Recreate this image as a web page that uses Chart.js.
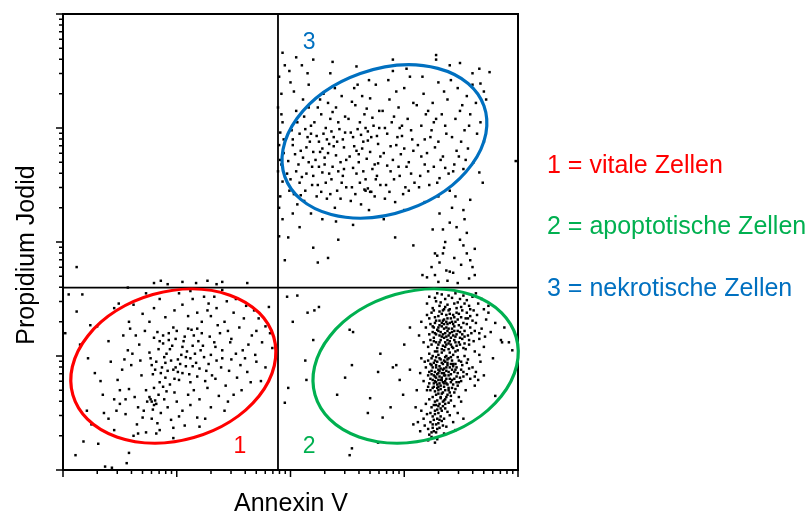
<!DOCTYPE html>
<html>
<head>
<meta charset="utf-8">
<script src="https://cdn.jsdelivr.net/npm/chart.js@4.4.1/dist/chart.umd.min.js"></script>
<style>
html,body{margin:0;padding:0;background:#fff;}
#wrap{width:809px;height:515px;position:relative;}
</style>
</head>
<body>
<div id="wrap"><canvas id="c" width="809" height="515"></canvas></div>
<script>
// Axis: 4 log decades (Annexin V on x, Propidium Jodid on y); values are log10 intensities
const axisMin = 0, axisMax = 4;
const decadeTicks = [0, 1, 2, 3, 4];
const minorTickOffsets = [0.301, 0.477, 0.602, 0.699, 0.778, 0.845, 0.903, 0.954];
const quadrantX = 1.89, quadrantY = 1.6;
const xTitle = 'Annexin V';
const yTitle = 'Propidium Jodid';
const legendLabels = ['1 = vitale Zellen', '2 = apoptotische Zellen', '3 = nekrotische Zellen'];
const gateNumbers = ['1', '2', '3'];
const gateColors = ['#ff0000', '#00b050', '#0070c0'];

// Events, [Annexin V, Propidium Jodid] in decades
const vitalCells = [
[0.82,0.95],[0.91,1.02],[1.05,1.08],[1.12,0.98],[0.97,0.88],[1.21,1.05],[0.88,1.11],[1.02,0.79],[1.15,1.18],[0.79,0.84],
[1.28,0.93],[0.93,1.20],[1.08,0.91],[0.85,0.77],[1.18,0.82],[1.33,1.12],[0.99,1.15],[0.76,1.03],[1.10,1.24],[1.25,0.78],
[0.95,0.96],[1.04,1.01],[0.87,0.90],[1.14,1.09],[1.01,0.86],[0.90,0.81],[1.22,1.20],[0.80,1.16],[1.30,1.01],[0.94,0.75],
[1.07,1.17],[1.17,0.94],[0.84,1.06],[1.00,1.22],[1.26,0.87],[0.78,0.92],[1.11,0.84],[0.96,1.09],[1.19,1.13],[0.89,0.99],
[1.03,0.93],[1.09,1.04],[0.92,0.87],[1.24,0.99],[0.83,1.21],[1.35,0.96],[0.98,0.80],[1.13,1.23],[0.86,0.85],[1.06,1.13],
[1.20,0.89],[0.77,0.98],[1.16,1.02],[0.94,1.06],[1.29,1.17],[1.01,0.97],[0.88,1.18],[1.12,0.77],[0.81,0.88],[1.23,1.09],
[0.97,1.25],[1.05,0.85],[1.31,0.83],[0.90,0.94],[1.08,0.99],[0.85,1.13],[1.18,1.24],[0.99,0.90],[1.14,0.91],[0.93,1.14],
[0.45,0.62],[0.52,0.88],[0.58,0.71],[0.61,1.02],[0.66,0.55],[0.69,0.83],[0.72,1.22],[0.55,0.49],[0.63,0.64],[0.70,0.46],
[0.74,0.60],[0.48,0.79],[0.60,0.92],[0.67,1.10],[0.73,0.70],[0.57,1.05],[0.50,0.58],[0.65,0.40],[0.71,0.52],[0.78,0.45],
[0.82,0.58],[0.86,0.50],[0.84,0.66],[0.89,0.62],[0.80,0.72],[0.92,0.55],[0.76,0.64],[0.83,0.41],[0.95,0.44],[1.00,0.60],
[1.05,0.52],[0.91,0.69],[1.10,0.66],[1.15,0.70],[0.98,0.68],[1.20,0.62],[1.27,0.72],[0.85,0.35],[0.97,0.37],[1.07,0.39],
[0.73,0.33],[0.62,0.30],[1.18,0.46],[1.30,0.55],[1.37,0.65],[1.45,0.60],[1.50,0.66],[1.25,0.45],[1.12,0.57],[0.88,0.73],
[0.68,0.96],[0.64,1.18],[0.59,1.24],[0.54,0.97],[0.79,0.53],[1.02,0.47],[1.34,0.80],[1.40,0.98],[1.46,0.87],[1.52,1.02],
[1.60,0.98],[1.65,0.77],[1.78,0.90],[1.84,1.07],[1.70,1.22],[0.78,0.60],[0.80,0.57],[0.77,0.62],[0.81,0.61],
[1.35,1.42],[1.42,1.30],[1.50,1.38],[1.38,1.20],[1.55,1.25],[1.61,1.44],[1.47,1.12],[1.58,1.05],[1.66,1.18],[1.72,1.33],
[1.78,1.26],[1.44,1.48],[1.30,1.35],[1.52,1.50],[1.63,1.10],[1.69,1.01],[1.75,1.12],[1.82,1.20],[1.40,1.05],[1.48,0.97],
[1.56,0.92],[1.36,1.27],[1.27,1.40],[1.22,1.30],[1.33,1.52],[1.45,1.22],[1.59,1.33],[1.68,1.40],[1.81,1.43],[1.39,0.90],
[1.53,0.81],[1.62,0.86],[1.70,0.95],[1.43,0.74],[1.57,0.70],[1.74,0.78],[1.48,1.15],[1.28,1.46],[1.18,1.38],[1.10,1.35],
[1.05,1.45],[1.14,1.50],[0.98,1.40],[0.90,1.34],[1.24,1.52],[1.02,1.55],[1.34,1.08],[1.40,1.58],[1.12,1.57],
[0.15,1.10],[0.22,0.98],[0.30,1.26],[0.40,1.13],[0.28,0.85],[0.35,0.66],[0.42,0.95],[0.36,0.50],[0.25,0.40],[0.45,0.35],
[0.50,0.70],[0.40,0.45],[0.55,0.62],[0.47,0.52],[0.33,0.78],[0.53,1.18],[0.58,1.30],[0.45,1.42],[0.62,1.45],[0.70,1.37],
[0.76,1.30],[0.80,1.42],[0.85,1.50],[0.73,1.55],
[0.11,0.13],[0.18,0.25],[0.31,0.23],[0.37,0.03],[0.43,0.02],[0.56,0.06],[0.58,0.15],[0.66,0.32],[0.05,1.54],[0.17,1.54],
[0.12,1.39],[0.02,1.20],[0.24,1.27],[0.49,1.46],[0.82,0.32],[0.97,0.28],[1.20,0.38],[1.42,0.52],[0.21,0.52],[0.57,1.60]
];

const apoptoticCells = [
[3.22,1.52],[3.28,1.48],[3.33,1.54],[3.38,1.45],[3.42,1.51],[3.47,1.47],[3.52,1.53],[3.57,1.44],[3.25,1.42],[3.31,1.44],
[3.36,1.50],[3.40,1.41],[3.45,1.55],[3.50,1.43],[3.55,1.49],[3.60,1.52],[3.65,1.46],[3.70,1.41],[3.20,1.46],[3.29,1.55],
[3.35,1.41],[3.44,1.46],[3.49,1.50],[3.58,1.41],[3.63,1.55],[3.27,1.51],[3.39,1.53],[3.53,1.46],[3.68,1.50],[3.74,1.44],
[3.32,1.47],[3.46,1.42],
[3.24,1.38],[3.30,1.35],[3.35,1.32],[3.40,1.37],[3.45,1.30],[3.50,1.34],[3.55,1.38],[3.60,1.31],[3.27,1.29],[3.33,1.26],
[3.38,1.28],[3.42,1.24],[3.48,1.27],[3.53,1.22],[3.58,1.25],[3.63,1.29],[3.25,1.21],[3.31,1.18],[3.36,1.20],[3.41,1.16],
[3.46,1.19],[3.51,1.15],[3.56,1.18],[3.61,1.13],[3.28,1.12],[3.34,1.09],[3.39,1.11],[3.43,1.07],[3.49,1.10],[3.54,1.06],
[3.22,1.33],[3.29,1.23],[3.32,1.14],[3.37,1.36],[3.44,1.34],[3.47,1.22],[3.52,1.29],[3.57,1.10],[3.26,1.16],[3.35,1.24],
[3.40,1.20],[3.31,1.31],[3.38,1.14],[3.45,1.12],[3.50,1.25],[3.42,1.30],[3.36,1.08],[3.29,1.07],[3.33,1.37],[3.48,1.37],
[3.54,1.33],[3.59,1.20],[3.64,1.36],[3.68,1.24],[3.72,1.32],[3.66,1.15],[3.70,1.08],[3.76,1.21],[3.80,1.29],[3.85,1.14],
[3.19,1.25],[3.17,1.12],[3.21,1.08],[3.23,1.28],[3.27,1.34],[3.30,1.10],[3.34,1.19],[3.39,1.24],[3.43,1.18],[3.47,1.32],
[3.41,1.10],[3.37,1.17],[3.32,1.21],[3.35,1.28],[3.38,1.33],[3.44,1.26],[3.46,1.09],[3.51,1.19],[3.55,1.28],[3.62,1.22],
[3.58,1.35],[3.26,1.25],[3.24,1.10],[3.28,1.19],[3.36,1.12],[3.40,1.29],[3.43,1.36],[3.49,1.16],[3.53,1.11],[3.33,1.06],
[3.39,1.06],[3.31,1.27],[3.35,1.16],[3.42,1.21],[3.37,1.25],[3.45,1.17],[3.30,1.22],[3.34,1.31],[3.40,1.13],[3.92,1.12],
[3.74,1.38],[3.88,1.25],[3.15,1.30],[3.13,1.18],
[3.22,1.02],[3.28,0.99],[3.33,1.03],[3.38,0.97],[3.43,1.01],[3.48,0.96],[3.53,1.00],[3.26,0.94],[3.31,0.91],[3.36,0.95],
[3.40,0.90],[3.45,0.93],[3.50,0.88],[3.24,0.87],[3.29,0.84],[3.34,0.88],[3.39,0.83],[3.44,0.86],[3.49,0.81],[3.55,0.84],
[3.23,0.80],[3.28,0.77],[3.33,0.81],[3.37,0.76],[3.42,0.79],[3.47,0.74],[3.25,0.72],[3.30,0.70],[3.35,0.73],[3.40,0.68],
[3.45,0.71],[3.21,0.96],[3.27,1.04],[3.32,0.97],[3.35,0.85],[3.30,0.79],[3.26,0.83],[3.38,0.92],[3.41,0.84],[3.36,0.78],
[3.32,0.74],[3.28,0.90],[3.34,0.93],[3.31,0.87],[3.29,0.75],[3.27,0.69],[3.33,0.67],[3.39,0.72],[3.43,0.75],[3.46,0.82],
[3.51,0.92],[3.56,0.97],[3.60,0.90],[3.58,0.80],[3.63,0.86],[3.67,0.95],[3.62,0.74],[3.54,0.70],[3.70,0.83],[3.19,0.90],
[3.17,0.78],[3.20,0.70],[3.15,0.98],[3.14,0.85],[3.22,0.76],[3.24,0.98],[3.30,1.01],[3.37,1.00],[3.42,0.96],[3.47,0.99],
[3.52,0.86],[3.48,0.77],[3.44,0.68],[3.38,0.66],[3.31,0.82],[3.35,0.89],[3.27,0.86],[3.25,0.79],[3.34,0.77],[3.40,0.80],
[3.37,0.87],[3.29,0.95],[3.33,0.85],[3.36,0.70],[3.41,0.93],[3.45,0.88],[3.26,0.73],[3.23,0.93],[3.32,0.71],[3.39,0.98],
[3.28,0.81],[3.30,0.88],[3.35,0.96],[3.33,0.79],[3.31,0.76],[3.29,0.72],[3.27,0.78],[3.36,0.83],[3.38,0.75],[3.34,0.68],
[3.30,0.67],[3.43,0.91],[3.50,0.78],[3.57,0.89],[3.65,0.79],[3.24,0.84],[3.21,0.83],[3.18,0.95],
[3.22,0.62],[3.27,0.60],[3.32,0.63],[3.36,0.58],[3.41,0.61],[3.24,0.55],[3.29,0.53],[3.34,0.56],[3.38,0.51],[3.20,0.49],
[3.25,0.47],[3.30,0.50],[3.35,0.45],[3.40,0.48],[3.23,0.42],[3.28,0.40],[3.33,0.43],[3.37,0.38],[3.21,0.36],[3.26,0.34],
[3.31,0.37],[3.35,0.32],[3.24,0.29],[3.29,0.27],[3.19,0.58],[3.17,0.45],[3.15,0.52],[3.44,0.56],[3.47,0.50],[3.43,0.42],
[3.39,0.59],[3.31,0.58],[3.27,0.52],[3.32,0.47],[3.26,0.44],[3.30,0.41],[3.25,0.37],[3.28,0.33],[3.22,0.31],[3.33,0.52],
[3.29,0.45],[3.36,0.54],[3.23,0.50],[3.18,0.39],[3.14,0.34],[3.34,0.39],[3.27,0.24],[3.21,0.26],[3.50,0.60],[3.52,0.45],
[3.45,0.35],[3.12,0.42],[3.10,0.55],[3.48,0.64],[3.28,0.57],[3.35,0.61],
[3.26,1.40],[3.31,1.39],[3.36,1.43],[3.41,1.33],[3.46,1.38],[3.28,1.31],[3.33,1.29],[3.37,1.30],[3.43,1.28],[3.25,1.26],
[3.30,1.25],[3.38,1.22],[3.44,1.22],[3.49,1.21],[3.27,1.20],[3.33,1.17],[3.39,1.18],[3.44,1.14],[3.48,1.12],[3.26,1.13],
[3.31,1.12],[3.37,1.10],[3.42,1.08],[3.29,1.04],[3.35,1.05],[3.40,1.03],[3.45,1.04],[3.25,1.00],[3.31,0.98],[3.36,0.99],
[3.41,0.99],[3.27,0.96],[3.33,0.94],[3.38,0.94],[3.43,0.93],[3.28,0.92],[3.32,0.89],[3.37,0.90],[3.42,0.88],[3.25,0.90],
[3.30,0.85],[3.35,0.83],[3.39,0.86],[3.27,0.82],[3.32,0.79],[3.37,0.80],[3.41,0.77],[3.26,0.76],[3.30,0.73],[3.35,0.76],
[3.39,0.70],[3.28,0.66],[3.32,0.64],[3.37,0.64],[3.25,0.64],[3.29,0.61],[3.34,0.60],[3.30,0.56],[3.26,0.57],[3.32,0.54],
[3.27,0.49],[3.31,0.44],[3.25,0.40],[3.29,0.36],[3.24,0.33],[3.34,1.40],[3.39,1.40],[3.51,1.40],[3.56,1.33],[3.61,1.40],
[3.53,1.17],[3.57,1.14],[3.52,1.07],[3.47,1.05],[3.55,0.94],[3.50,0.95],[3.46,0.90],[3.52,0.82],[3.47,0.85],[3.44,0.80],
[3.46,0.77],[3.42,0.72],[3.41,0.65],[3.36,0.62],[3.23,0.70],[3.21,0.73],[3.22,0.86],[3.24,0.92],[3.23,1.14],[3.22,1.19],
[3.20,1.36],[3.66,1.20],[3.71,1.17],[3.62,1.04],[3.66,1.01],
[2.06,1.53],[2.15,1.38],[2.25,1.43],[2.21,1.40],[2.52,1.23],[2.55,1.21],[2.20,1.14],[2.13,0.96],[2.14,0.79],[1.98,0.72],
[1.95,0.59],[2.41,0.66],[2.48,0.81],[2.54,0.92],[2.70,0.63],[2.68,0.50],[2.79,1.02],[2.77,0.86],[2.81,0.46],[2.90,0.90],
[2.93,0.92],[2.96,0.79],[3.05,0.88],[2.99,0.66],[3.11,0.70],[2.54,0.19],[2.52,0.13],[2.77,0.24],[3.86,1.12],[3.62,0.82],
[3.78,0.98],[3.00,1.10],[3.05,1.25],[2.88,0.55],[3.08,0.40],[1.97,1.52],[2.02,1.30],[3.95,1.05],[3.80,0.65]
];

const necroticCells = [
[1.98,2.71],[2.02,2.85],[2.05,2.62],[2.08,2.95],[2.11,2.74],[2.00,2.55],[2.14,2.60],[2.17,2.88],[2.06,3.05],[2.19,2.50],
[2.03,2.42],[2.12,3.10],[2.16,2.70],[2.09,2.80],[2.01,2.98],[2.18,3.02],[2.13,2.45],[2.07,2.68],[2.15,2.92],[2.04,2.77],
[2.10,2.57],[2.20,2.79],[1.97,2.60],[2.05,3.15],[2.12,2.36],[2.19,2.66],[2.08,2.52],[2.16,3.18],[2.02,2.90],[2.14,2.83],
[1.99,2.45],[2.11,3.25],[2.06,2.33],[2.18,2.95],[2.03,3.32],[2.13,2.99],[2.09,2.41],[2.20,2.58],[2.00,3.40],[2.16,3.38],
[1.90,3.45],[1.92,3.30],[1.89,3.18],[1.93,3.05],[1.91,2.96],[1.90,2.85],[1.94,2.78],[1.92,2.68],[1.89,2.62],[1.93,2.53],
[1.91,2.40],[1.90,2.30],[1.94,2.90],[1.92,3.12],[1.91,2.72],[1.93,2.20],[1.95,3.55],[1.90,2.05],
[2.22,2.72],[2.25,2.88],[2.28,2.61],[2.31,3.00],[2.24,2.50],[2.27,3.12],[2.33,2.78],[2.36,2.55],[2.30,2.68],[2.38,2.92],
[2.41,2.45],[2.35,3.08],[2.44,2.70],[2.47,2.83],[2.23,2.40],[2.29,2.95],[2.32,2.38],[2.40,3.18],[2.46,2.58],[2.26,3.25],
[2.37,2.66],[2.43,2.99],[2.49,2.48],[2.21,3.05],[2.34,2.86],[2.39,2.30],[2.45,3.28],[2.28,2.82],[2.42,2.62],[2.48,3.10],
[2.25,2.66],[2.31,2.52],[2.36,2.97],[2.40,2.76],[2.46,2.90],[2.23,2.93],[2.33,3.22],[2.44,2.38],[2.27,2.44],[2.38,2.84],
[2.49,2.72],[2.30,2.74],[2.35,2.42],[2.42,3.05],[2.47,2.64],[2.24,3.18],[2.39,3.35],[2.29,3.30],[2.45,2.52],[2.32,2.90],
[2.26,2.79],[2.41,2.88],[2.37,3.14],[2.48,2.96],[2.34,2.60],
[2.52,2.75],[2.55,2.92],[2.58,2.60],[2.61,3.05],[2.54,2.48],[2.57,3.20],[2.63,2.82],[2.66,2.55],[2.60,2.70],[2.68,2.97],
[2.71,2.44],[2.65,3.12],[2.74,2.68],[2.77,2.86],[2.53,2.36],[2.59,2.99],[2.62,2.33],[2.70,3.26],[2.76,2.58],[2.56,3.35],
[2.67,2.73],[2.73,3.02],[2.79,2.50],[2.51,3.08],[2.64,2.88],[2.69,2.28],[2.75,3.38],[2.58,2.80],[2.72,2.64],[2.78,3.15],
[2.55,2.65],[2.61,2.52],[2.66,3.00],[2.70,2.79],[2.76,2.93],[2.53,2.96],[2.63,3.28],[2.74,2.40],[2.57,2.42],[2.68,2.89],
[2.79,2.75],[2.60,2.77],[2.65,2.46],[2.72,3.09],[2.77,2.69],[2.54,3.23],[2.69,3.42],[2.59,3.38],[2.75,2.55],[2.62,2.94],
[2.56,2.84],[2.71,2.92],[2.67,3.17],[2.78,3.00],[2.64,2.62],[2.66,2.45],[2.68,2.47],[2.70,2.44],
[2.82,2.78],[2.85,2.95],[2.88,2.62],[2.91,3.10],[2.84,2.50],[2.87,3.25],[2.93,2.85],[2.96,2.58],[2.90,2.72],[2.98,3.02],
[3.01,2.48],[2.95,3.18],[3.04,2.70],[3.07,2.90],[2.83,2.38],[2.89,3.05],[2.92,2.35],[3.00,3.35],[3.06,2.60],[2.86,3.42],
[2.97,2.77],[3.03,3.08],[3.09,2.52],[2.81,3.15],[2.94,2.92],[2.99,2.42],[3.05,3.45],[2.88,2.84],[3.02,2.66],[3.08,3.22],
[2.85,2.67],[2.91,2.55],[2.96,3.00],[3.00,2.82],[3.06,2.98],[2.83,3.00],[2.93,3.32],[3.04,2.45],[2.87,2.44],[2.98,2.93],
[2.90,3.50],[3.02,3.52],[2.95,2.66],[3.08,2.80],
[3.12,2.85],[3.15,3.02],[3.18,2.68],[3.21,3.15],[3.14,2.58],[3.17,3.30],[3.23,2.92],[3.26,2.66],[3.20,2.78],[3.28,3.08],
[3.31,2.56],[3.25,3.22],[3.34,2.75],[3.37,2.95],[3.13,2.48],[3.19,3.12],[3.22,2.50],[3.30,3.40],[3.36,2.65],[3.16,3.45],
[3.27,2.83],[3.33,3.12],[3.39,2.60],[3.11,3.20],[3.24,2.98],[3.29,2.52],[3.35,3.32],[3.18,2.90],[3.32,2.72],[3.38,3.25],
[3.15,2.75],[3.21,2.62],[3.26,3.05],[3.30,2.88],[3.36,3.02],
[3.42,2.92],[3.45,3.08],[3.48,2.75],[3.51,3.20],[3.44,2.68],[3.47,3.35],[3.53,2.98],[3.56,2.82],[3.50,2.88],[3.58,3.12],
[3.61,2.70],[3.55,3.28],[3.64,2.95],[3.67,3.05],[3.43,2.62],[3.49,3.15],[3.52,2.64],[3.60,3.38],[3.41,3.42],[3.57,3.02],
[3.46,2.80],[3.63,3.22],[3.70,2.88],[3.54,2.72],
[1.93,3.66],[2.20,3.60],[2.37,3.58],[2.35,3.48],[2.58,3.54],[2.90,3.60],[3.28,3.64],[3.28,3.60],[3.49,3.57],[3.66,3.52],
[3.75,3.49],[3.67,3.39],[3.98,2.71],[3.66,2.61],[3.69,2.52],[3.58,2.37],[3.52,2.28],[2.42,2.02],[2.20,1.95],[2.24,1.82],
[2.33,1.86],[1.95,1.84],[1.98,2.04],[2.92,2.04],[3.08,1.97],[2.08,2.13],[2.02,2.25],[2.10,3.55],[2.15,3.48],[2.05,3.62],
[1.99,3.50],[2.28,2.20],[2.40,2.18],[2.55,2.15],[2.18,2.25],[2.82,2.20],[3.00,2.28],[3.18,2.35],[3.40,2.45],[3.45,2.40],
[3.30,2.40],[3.72,3.25],[3.70,3.32],[3.60,3.48],[3.40,3.55],
[3.27,1.90],[3.29,1.88],[3.34,1.90],[3.31,1.82],[3.37,1.75],[3.40,1.74],[3.43,1.73],[3.27,1.71],[3.20,1.69],[3.52,1.97],
[3.55,1.90],[3.58,1.84],[3.60,1.78],[3.62,1.71],[3.46,2.13],[3.31,2.25],[3.34,2.11],[3.40,2.17],[3.25,2.11],[3.55,2.08],
[3.16,1.71],[3.49,2.02],[3.36,2.00],[3.44,1.86],[3.50,1.80],[3.57,1.68],[3.38,1.66],[3.30,1.65],[3.47,1.64],[3.24,1.78],
[3.53,2.20],[3.42,2.30],[3.35,1.95],[3.62,1.94]
];

const otherEvents = [
[0.80,1.64],[0.86,1.66],[0.92,1.63],[1.05,1.65],[1.17,1.64],[1.27,1.66],[1.35,1.63],[1.40,1.65],[1.62,1.64],[0.12,1.78]
];

// Gates: centre, semi-axes (decades), rotation (deg)
const gateCentersX = [0.97, 3.10, 2.826];
const gateCentersY = [0.912, 0.912, 2.882];
const gateSemiA = [0.919, 0.92, 0.929];
const gateSemiB = [0.652, 0.652, 0.632];
const gateRotation = [-16, -16, -19.6];
const gateLabelX = [1.556, 2.163, 2.163];
const gateLabelY = [0.15, 0.15, 3.69];

const FONT = "'Liberation Sans', Arial, Helvetica, sans-serif";

const toXY = arr => arr.map(p => ({x: p[0], y: p[1]}));

const overlay = {
  id: 'overlay',
  afterDatasetsDraw(chart) {
    const ctx = chart.ctx;
    const xs = chart.scales.x, ys = chart.scales.y;
    const L = xs.getPixelForValue(axisMin), R = xs.getPixelForValue(axisMax);
    const B = ys.getPixelForValue(axisMin), T = ys.getPixelForValue(axisMax);
    ctx.save();
    ctx.strokeStyle = '#000';
    ctx.lineCap = 'butt';
    // quadrant lines
    ctx.lineWidth = 1.8;
    const qx = xs.getPixelForValue(quadrantX), qy = ys.getPixelForValue(quadrantY);
    ctx.beginPath();
    ctx.moveTo(qx, T); ctx.lineTo(qx, B);
    ctx.moveTo(L, qy); ctx.lineTo(R, qy);
    ctx.stroke();
    // frame
    ctx.lineWidth = 2;
    ctx.strokeRect(L, T, R - L, B - T);
    // ticks
    ctx.lineWidth = 1.5;
    ctx.beginPath();
    decadeTicks.forEach(d => {
      const px = xs.getPixelForValue(d), py = ys.getPixelForValue(d);
      ctx.moveTo(px, B); ctx.lineTo(px, B + 7);
      ctx.moveTo(L, py); ctx.lineTo(L - 7, py);
      if (d < axisMax) {
        minorTickOffsets.forEach(o => {
          const mx = xs.getPixelForValue(d + o), my = ys.getPixelForValue(d + o);
          ctx.moveTo(mx, B); ctx.lineTo(mx, B + 4);
          ctx.moveTo(L, my); ctx.lineTo(L - 4, my);
        });
      }
    });
    ctx.stroke();
    // gates
    ctx.lineWidth = 3.2;
    for (let i = 0; i < gateCentersX.length; i++) {
      const cx = xs.getPixelForValue(gateCentersX[i]);
      const cy = ys.getPixelForValue(gateCentersY[i]);
      const rx = xs.getPixelForValue(gateCentersX[i] + gateSemiA[i]) - cx;
      const ry = cy - ys.getPixelForValue(gateCentersY[i] + gateSemiB[i]);
      ctx.strokeStyle = gateColors[i];
      ctx.beginPath();
      ctx.ellipse(cx, cy, rx, ry, gateRotation[i] * Math.PI / 180, 0, Math.PI * 2);
      ctx.stroke();
      ctx.fillStyle = gateColors[i];
      ctx.font = '23px ' + FONT;
      ctx.textAlign = 'center';
      ctx.textBaseline = 'alphabetic';
      ctx.fillText(gateNumbers[i], xs.getPixelForValue(gateLabelX[i]), ys.getPixelForValue(gateLabelY[i]));
    }
    // axis titles
    ctx.fillStyle = '#000';
    ctx.font = '25px ' + FONT;
    ctx.textAlign = 'center';
    ctx.fillText(xTitle, (L + R) / 2 + 0.5, B + 41);
    ctx.save();
    ctx.translate(L - 29, 255);
    ctx.rotate(-Math.PI / 2);
    ctx.fillText(yTitle, 0, 0);
    ctx.restore();
    // legend
    ctx.textAlign = 'left';
    ctx.font = '25px ' + FONT;
    const legendY = [173, 234, 296];
    legendLabels.forEach((t, i) => {
      ctx.fillStyle = gateColors[i];
      ctx.fillText(t, R + 29, legendY[i]);
    });
    ctx.restore();
  }
};

const pointStyle = {
  pointStyle: 'rect', pointRadius: 1.75, pointHoverRadius: 1.75,
  backgroundColor: '#000', borderWidth: 0, showLine: false
};

new Chart(document.getElementById('c'), {
  type: 'scatter',
  data: {
    datasets: [
      Object.assign({label: 'vital', data: toXY(vitalCells)}, pointStyle),
      Object.assign({label: 'apoptotisch', data: toXY(apoptoticCells)}, pointStyle),
      Object.assign({label: 'nekrotisch', data: toXY(necroticCells)}, pointStyle),
      Object.assign({label: 'sonstige', data: toXY(otherEvents)}, pointStyle)
    ]
  },
  options: {
    responsive: false,
    devicePixelRatio: 1,
    animation: false,
    events: [],
    layout: {padding: {left: 63, right: 291, top: 14, bottom: 45}},
    plugins: {legend: {display: false}, tooltip: {enabled: false}, title: {display: false}},
    scales: {
      x: {type: 'linear', min: axisMin, max: axisMax, display: false},
      y: {type: 'linear', min: axisMin, max: axisMax, display: false}
    }
  },
  plugins: [overlay]
});
</script>
</body>
</html>
